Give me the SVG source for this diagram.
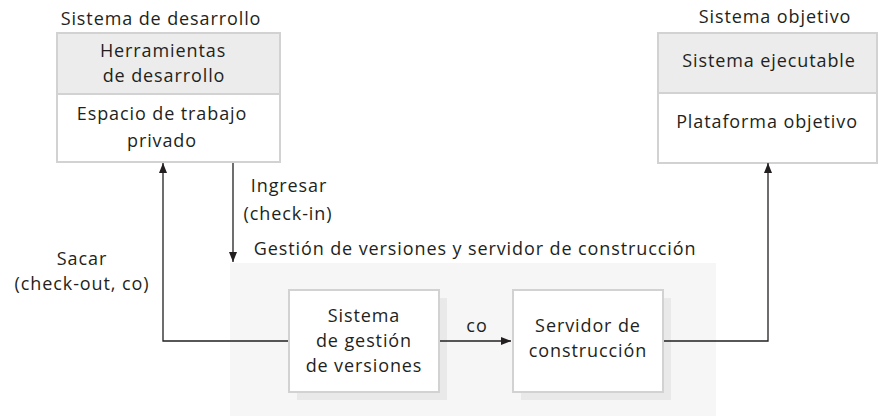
<svg xmlns="http://www.w3.org/2000/svg" width="879" height="419" viewBox="0 0 879 419">
<defs>
<style>
text{font-family:"Open Sans","Noto Sans","DejaVu Sans",sans-serif;font-size:18px;letter-spacing:0.9px;fill:#231f20;text-anchor:middle}
.box{fill:#ffffff;stroke:#d2d2d2;stroke-width:2}
.hdr{fill:#ececec;stroke:#d2d2d2;stroke-width:2}
.shadow{fill:#e9e9e9}
.area{fill:#f6f6f6}
.line{fill:none;stroke:#231f20;stroke-width:1.3}
</style>
<marker id="arr" viewBox="0 0 10 8" refX="10" refY="4" markerWidth="10" markerHeight="8" markerUnits="userSpaceOnUse" orient="auto">
<path d="M0,0 L10,4 L0,8 Z" fill="#231f20"/>
</marker>
</defs>
<rect width="879" height="419" fill="#ffffff"/>

<g id="dev-system">
<text x="161" y="25">Sistema de desarrollo</text>
<rect class="box" x="57" y="33" width="223" height="129"/>
<rect class="hdr" x="57" y="33" width="223" height="61"/>
<text x="163" y="57">Herramientas</text>
<text x="164" y="82">de desarrollo</text>
<text x="162" y="120">Espacio de trabajo</text>
<text x="162" y="147">privado</text>
</g>

<g id="target-system">
<text x="775" y="23">Sistema objetivo</text>
<rect class="box" x="658" y="33" width="219" height="130"/>
<rect class="hdr" x="658" y="33" width="219" height="60"/>
<text x="769" y="67">Sistema ejecutable</text>
<text x="767" y="128">Plataforma objetivo</text>
</g>

<g id="vm-build-server">
<rect class="area" x="230" y="263" width="486" height="153"/>
<text x="475" y="255">Gestión de versiones y servidor de construcción</text>
</g>

<g id="vcs">
<rect class="shadow" x="297" y="298" width="150" height="102"/>
<rect class="box" x="289" y="290" width="150" height="102"/>
<text x="364" y="322">Sistema</text>
<text x="364" y="347">de gestión</text>
<text x="364" y="372">de versiones</text>
</g>

<g id="build-server">
<rect class="shadow" x="521" y="298" width="150" height="102"/>
<rect class="box" x="513" y="290" width="150" height="102"/>
<text x="588" y="332">Servidor de</text>
<text x="588" y="357">construcción</text>
</g>

<g id="connectors">
<polyline class="line" points="288,341 163,341 163,163" marker-end="url(#arr)"/>
<text x="82" y="265">Sacar</text>
<text x="82" y="290">(check-out, co)</text>
<line class="line" x1="233" y1="163" x2="233" y2="262" marker-end="url(#arr)"/>
<text x="289" y="192">Ingresar</text>
<text x="288" y="220">(check-in)</text>
<line class="line" x1="440" y1="341" x2="511" y2="341" marker-end="url(#arr)"/>
<text x="477" y="332">co</text>
<polyline class="line" points="664,341 768,341 768,163" marker-end="url(#arr)"/>
</g>
</svg>
